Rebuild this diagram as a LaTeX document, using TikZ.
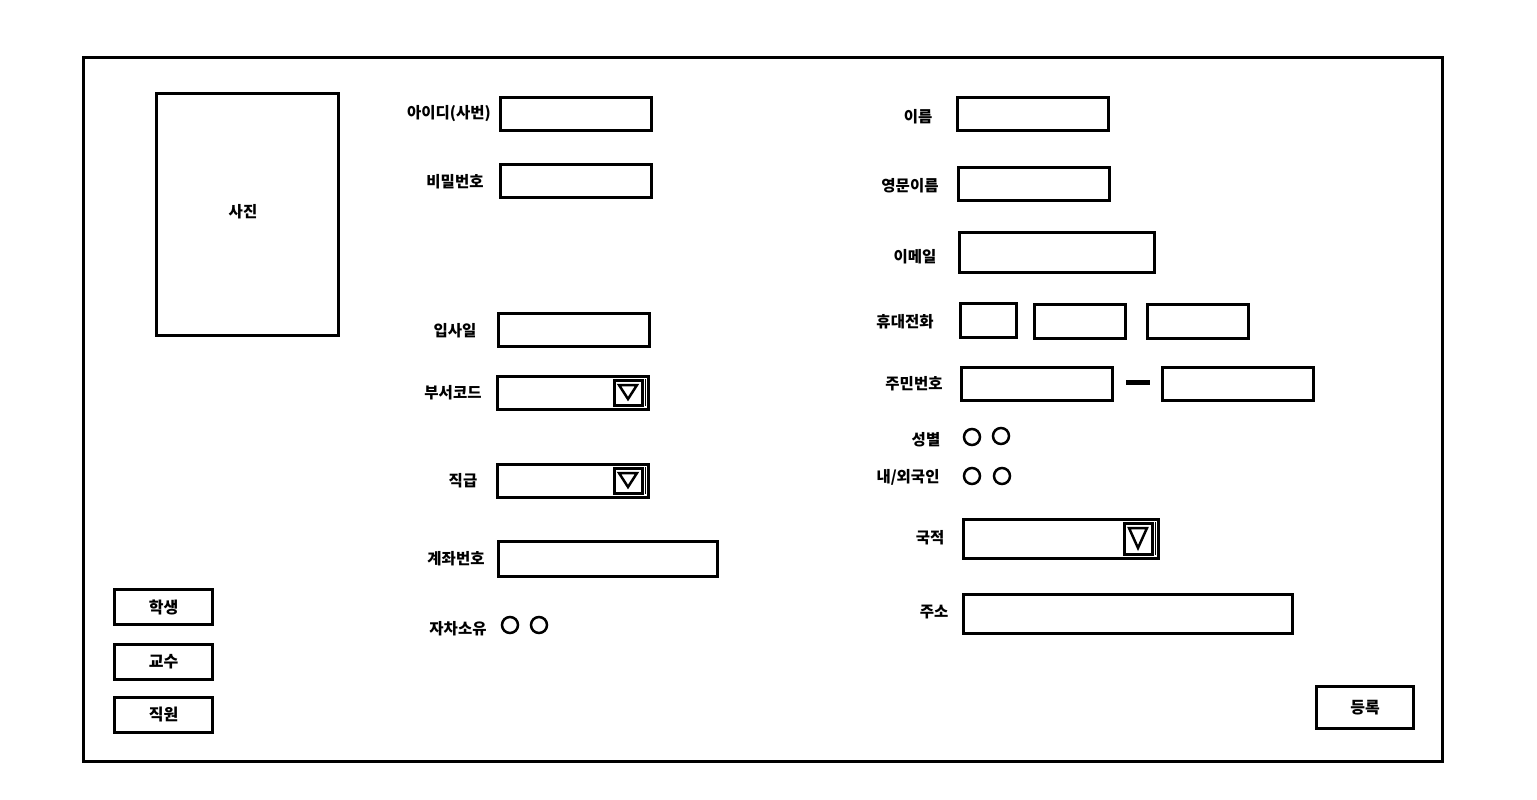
\documentclass[tikz,border=0pt]{standalone}
\usepackage{fontspec}
\newfontfamily\kr{Noto Sans CJK KR}
\usetikzlibrary{positioning}

\tikzset{
  box/.style={draw, line width=3pt},
  lbl/.style={font=\kr\bfseries\fontsize{15.5}{17}\selectfont, inner sep=0pt, yshift=-1.5pt},
  radio/.style={draw, circle, line width=2.5pt, minimum size=16pt, inner sep=0pt},
  btn/.style={draw, line width=3pt, inner sep=0pt, font=\kr\bfseries\fontsize{16}{18}\selectfont}
}
% drop-down list: box and arrow button
\newcommand{\dropbox}[4]{%
  \draw[box] (#1,#2) rectangle (#3,#4);
  \draw[line width=3pt] (#3-34,#2+4) rectangle (#3-6,#4-4);
  \draw[line width=1.2pt] (#3-2.5,#2+3) -- (#3-2.5,#4-3);
  \draw[line width=2.5pt, line join=miter] (#3-29,#2+9) -- (#3-11,#2+9) -- (#3-20,#4-10) -- cycle;
}

\begin{document}
\begin{tikzpicture}[x=1pt,y=1pt,yscale=-1]
  \useasboundingbox (0,0) rectangle (1537,800);

  %Frame
  \draw[box] (83,58) rectangle (1442,761);

  %Photo
  \draw[box] (156,93) rectangle (338,335);
  \node[lbl] (photo) at (243,210) {사진};

  %Left column
  \node[lbl] (id) at (449,112) {아이디(사번)};
  \draw[box] (500,97) rectangle (651,130);
  \node[lbl] (pw) at (455,180) {비밀번호};
  \draw[box] (500,164) rectangle (651,197);
  \node[lbl] (hire) at (455,329) {입사일};
  \draw[box] (498,313) rectangle (649,346);
  \node[lbl] (dept) at (453,391) {부서코드};
  \dropbox{497}{376}{648}{409}
  \node[lbl] (rank) at (463,479) {직급};
  \dropbox{497}{464}{648}{497}
  \node[lbl] (acct) at (456,557) {계좌번호};
  \draw[box] (498,541) rectangle (717,576);
  \node[lbl] (car) at (458,627) {자차소유};
  \node[radio] (carY) at (510,625) {};
  \node[radio] (carN) at (539,625) {};

  %Right column
  \node[lbl] (name) at (918,115) {이름};
  \draw[box] (957,97) rectangle (1108,130);
  \node[lbl] (ename) at (910,184) {영문이름};
  \draw[box] (958,167) rectangle (1109,200);
  \node[lbl] (mail) at (915,255) {이메일};
  \draw[box] (959,232) rectangle (1154,272);
  \node[lbl] (phone) at (905,320) {휴대전화};
  \draw[box] (960,303) rectangle (1016,337);
  \draw[box] (1034,304) rectangle (1125,338);
  \draw[box] (1147,304) rectangle (1248,338);
  \node[lbl] (rrn) at (914,382) {주민번호};
  \draw[box] (961,367) rectangle (1112,400);
  \draw[line width=5pt] (1126,382) -- (1150,382);
  \draw[box] (1162,367) rectangle (1313,400);
  \node[lbl] (sex) at (926,438) {성별};
  \node[radio] (sexM) at (972,437) {};
  \node[radio] (sexF) at (1001,436) {};
  \node[lbl] (native) at (908,476) {내/외국인};
  \node[radio] (natY) at (972,476) {};
  \node[radio] (natN) at (1002,476) {};
  \node[lbl] (nation) at (930,536) {국적};
  \dropbox{963}{519}{1158}{558}
  \node[lbl] (addr) at (934,611) {주소};
  \draw[box] (963,594) rectangle (1292,633);

  %Buttons
  \node[btn, minimum width=98pt, minimum height=35pt] (student) at (163.5,607) {학생};
  \node[btn, minimum width=98pt, minimum height=35pt] (prof) at (163.5,662) {교수};
  \node[btn, minimum width=98pt, minimum height=35pt] (staff) at (163.5,715) {직원};
  \node[btn, minimum width=97pt, minimum height=42pt] (submit) at (1365,707.5) {등록};
\end{tikzpicture}
\end{document}
